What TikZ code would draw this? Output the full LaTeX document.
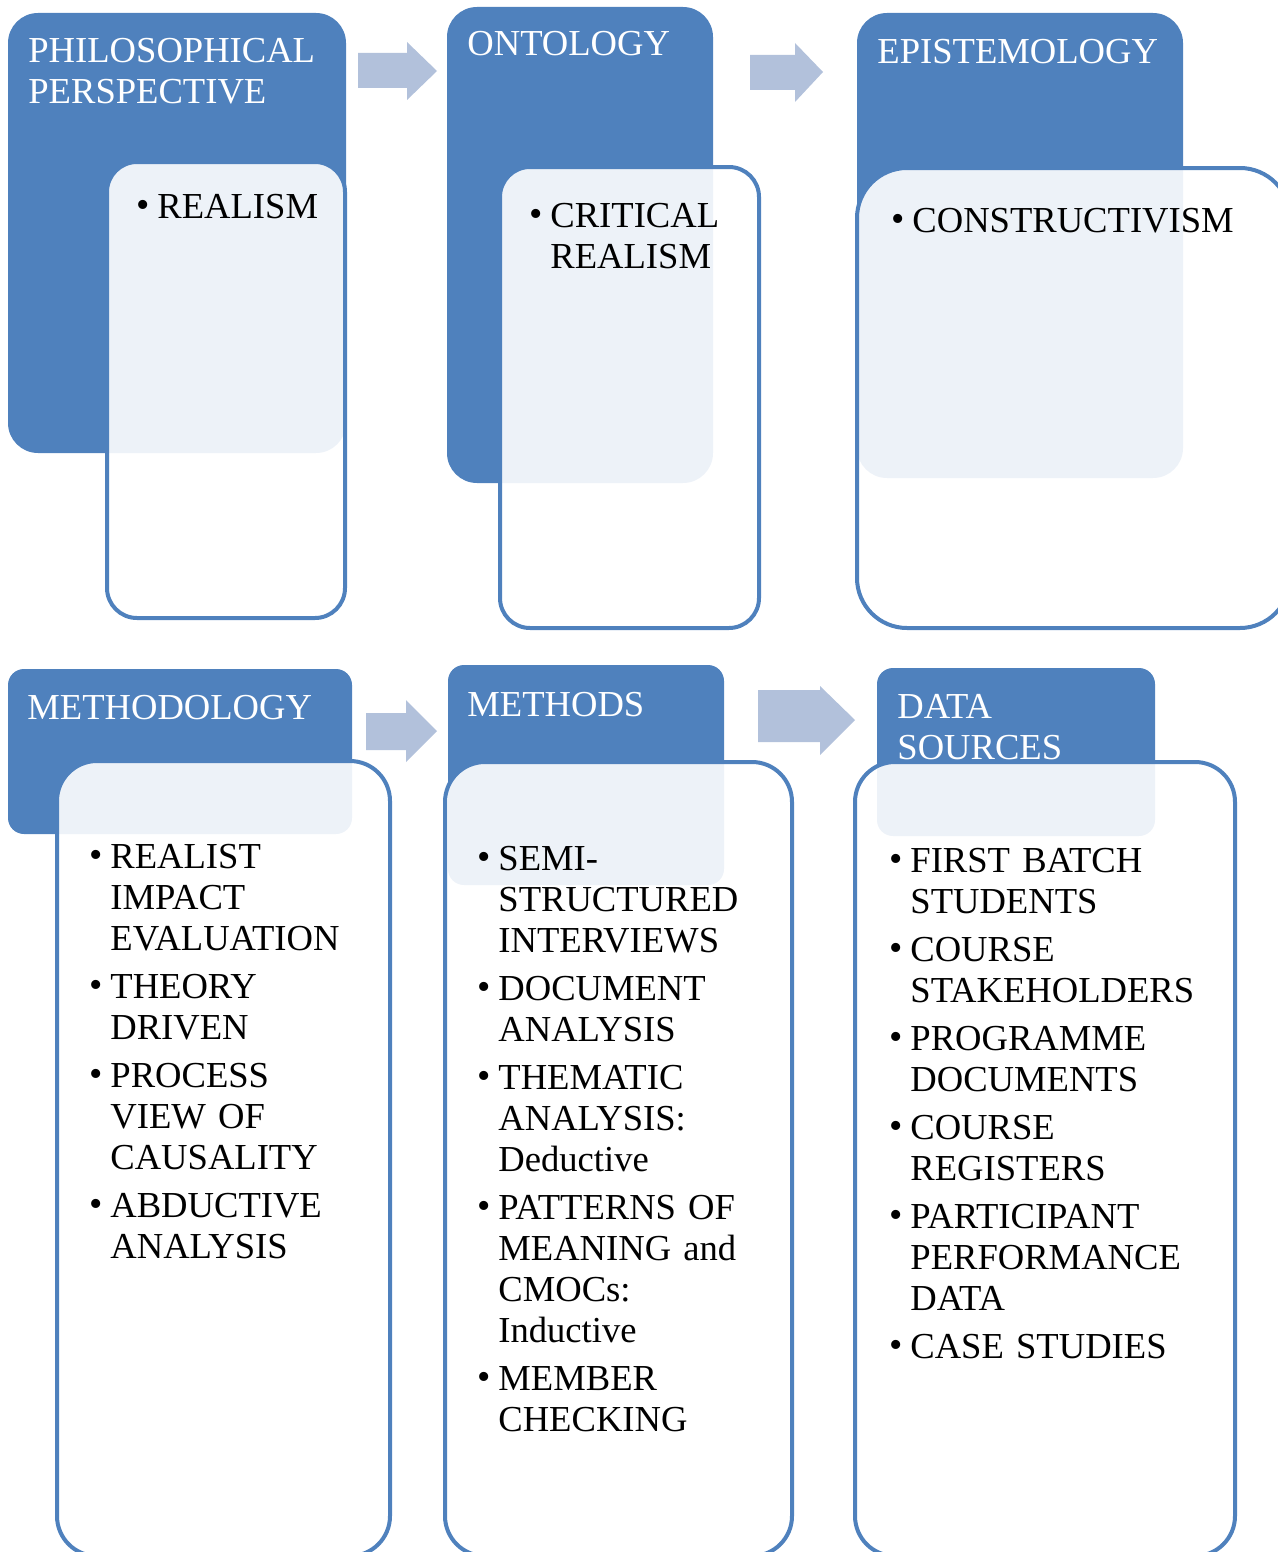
\documentclass[tikz,border=0pt]{standalone}
\usepackage{fontspec}
\setmainfont{Liberation Serif}
\usepackage{tikz}
\definecolor{hdrblue}{HTML}{4F81BD}
\definecolor{arrblue}{HTML}{B2C1DB}
\newcommand{\bul}{\raisebox{0.5pt}{\fontsize{19}{19}\selectfont\textbullet}}
\newcommand{\itm}[1]{\noindent\rule{0pt}{15pt}\makebox[10.5pt][l]{\bul}\parbox[t]{200pt}{#1\rule[-5pt]{0pt}{5pt}}\par\prevdepth=5pt\vskip 3.5pt}

\begin{document}
\begin{tikzpicture}[x=0.5pt,y=-0.5pt,
	header/.style={fill=hdrblue},
	panel/.style={draw=hdrblue,line width=2pt,fill=white,fill opacity=0.9},
	blockarr/.style={fill=arrblue},
	title/.style={anchor=north west,inner sep=0pt,text=white,font=\fontsize{18.3}{20.5}\selectfont,text width=170pt,align=left},
	bullets/.style={anchor=north west,inner sep=0pt,font=\fontsize{18.3}{20.5}\selectfont,text width=215pt,align=left}]
		\useasboundingbox (0,0) rectangle (1278,1552);
		\clip (0,0) rectangle (1278,1552);
		% top row
		\fill[header,rounded corners=15pt] (8,13) rectangle (346,453);
		\draw[panel,rounded corners=15pt] (107,162) rectangle (345,618);
		\fill[header,rounded corners=15pt] (447,7) rectangle (713,483);
		\draw[panel,rounded corners=15pt] (500,167) rectangle (759,628);
		\fill[header,rounded corners=15pt] (857,13) rectangle (1183,478);
		\draw[panel,rounded corners=25pt] (857,168) rectangle (1290,628);
		\fill[blockarr] (358,53) -- (407,53) -- (407,42) -- (437,71) -- (407,100) -- (407,88) -- (358,88) -- cycle;
		\fill[blockarr] (750,55) -- (795,55) -- (795,43) -- (823,72) -- (795,102) -- (795,90) -- (750,90) -- cycle;
		\node[title] (philtitle) at (28,32) {\rule{0pt}{15pt}PHILOSOPHICAL\\PERSPECTIVE};
		\node[bullets] (phillist) at (136,188) {\itm{REALISM}};
		\node[title] (ontotitle) at (467,25) {\rule{0pt}{15pt}ONTOLOGY};
		\node[bullets] (ontolist) at (529,197) {\itm{CRITICAL\\REALISM}};
		\node[title] (epistitle) at (877,33) {\rule{0pt}{15pt}EPISTEMOLOGY};
		\node[bullets] (epislist) at (891,202) {\itm{CONSTRUCTIVISM}};
		% bottom row
		\fill[header,rounded corners=8pt] (8,669) rectangle (352,834);
		\draw[panel,rounded corners=20pt] (57,761) rectangle (390,1556);
		\fill[header,rounded corners=8pt] (448,665) rectangle (724,885);
		\draw[panel,rounded corners=20pt] (445,762) rectangle (792,1556);
		\fill[header,rounded corners=8pt] (877,668) rectangle (1155,836);
		\draw[panel,rounded corners=20pt] (855,762) rectangle (1235,1556);
		\fill[blockarr] (366,713) -- (406,713) -- (406,700) -- (437,731) -- (406,762) -- (406,750) -- (366,750) -- cycle;
		\fill[blockarr] (758,690) -- (820,690) -- (820,686) -- (855,720) -- (820,755) -- (820,742) -- (758,742) -- cycle;
		\node[title] (methtitle) at (27,689) {\rule{0pt}{15pt}METHODOLOGY};
		\node[bullets] (methlist) at (89,838) {\itm{REALIST\\IMPACT\\EVALUATION}\itm{THEORY\\DRIVEN}\itm{PROCESS\\VIEW OF\\CAUSALITY}\itm{ABDUCTIVE\\ANALYSIS}};
		\node[title] (mthdtitle) at (467,686) {\rule{0pt}{15pt}METHODS};
		\node[bullets] (mthdlist) at (477,840) {\itm{SEMI-\\STRUCTURED\\INTERVIEWS}\itm{DOCUMENT\\ANALYSIS}\itm{THEMATIC\\ANALYSIS:\\Deductive}\itm{PATTERNS OF\\MEANING and\\CMOCs:\\Inductive}\itm{MEMBER\\CHECKING}};
		\node[title] (datatitle) at (897,688) {\rule{0pt}{15pt}DATA\\SOURCES};
		\node[bullets] (datalist) at (889,842) {\itm{FIRST BATCH\\STUDENTS}\itm{COURSE\\STAKEHOLDERS}\itm{PROGRAMME\\DOCUMENTS}\itm{COURSE\\REGISTERS}\itm{PARTICIPANT\\PERFORMANCE\\DATA}\itm{CASE STUDIES}};
	\end{tikzpicture}
\end{document}
